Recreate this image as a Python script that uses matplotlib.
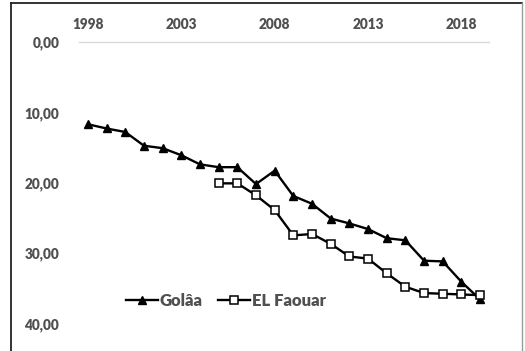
import matplotlib
matplotlib.use("Agg")
import matplotlib.pyplot as plt
from matplotlib.lines import Line2D

years = list(range(1998, 2020))
golaa = [11.7, 12.3, 12.8, 14.75, 15.1, 16.1, 17.4, 17.8, 17.8, 20.2, 18.3,
         21.9, 23.0, 25.1, 25.8, 26.6, 27.9, 28.2, 31.1, 31.2, 34.1, 36.6]
faouar_years = list(range(2005, 2020))
faouar = [20.1, 20.1, 21.8, 23.9, 27.5, 27.3, 28.7, 30.5, 30.8, 32.9, 34.8,
          35.7, 35.8, 35.9, 36.0]
xticks = [1998, 2003, 2008, 2013, 2018]
yticks = [0, 10, 20, 30, 40]
ytick_labels = ["0,00", "10,00", "20,00", "30,00", "40,00"]

plt.rcParams['font.family'] = ['Lato', 'DejaVu Sans']
txt = '#505050'

fig = plt.figure(figsize=(5.25, 3.51), dpi=100)
W, H = 525, 351
ax = fig.add_axes([78.6 / W, 1 - 323.3 / H, (489.4 - 78.6) / W, (323.3 - 42) / H])

ax.plot(years, golaa, color='black', lw=1.7, marker='^', ms=5.5,
        mfc='black', mec='black', label='Golâa')
ax.plot(faouar_years, faouar, color='black', lw=1.7, marker='s', ms=6,
        mfc='white', mec='black', mew=1.1, label='EL Faouar')

ax.set_xlim(1997.5, 2019.5)
ax.set_ylim(40, 0)
ax.xaxis.tick_top()
ax.set_xticks(xticks)
ax.set_xticklabels([str(x) for x in xticks], fontsize=9.8, fontweight='heavy', color=txt)
ax.set_yticks(yticks)
ax.set_yticklabels(ytick_labels, fontsize=9.8, fontweight='heavy', color=txt)
ax.tick_params(axis='both', length=0)
ax.tick_params(axis='x', pad=8)
ax.tick_params(axis='y', pad=14)
for s in ['left', 'right', 'bottom']:
    ax.spines[s].set_visible(False)
ax.spines['top'].set_color('#d9d9d9')
ax.spines['top'].set_linewidth(1.0)

leg = fig.legend(loc='center', bbox_to_anchor=(226 / W, 1 - 301 / H), ncol=2,
                 frameon=False, handlelength=1.9, columnspacing=0.9, handletextpad=0.15,
                 prop={'size': 12, 'weight': 'heavy'})
for t in leg.get_texts():
    t.set_color(txt)

# outer frame
fig.add_artist(Line2D([11 / W, 11 / W], [0, 1 - 3 / H], transform=fig.transFigure, color='#222222', lw=1.3))
fig.add_artist(Line2D([11 / W, 522 / W], [1 - 3 / H, 1 - 3 / H], transform=fig.transFigure, color='#222222', lw=1.3))
fig.add_artist(Line2D([522 / W, 522 / W], [0, 1 - 3 / H], transform=fig.transFigure, color='#9a9a9a', lw=1.0))

fig.savefig('out.png', dpi=100)
